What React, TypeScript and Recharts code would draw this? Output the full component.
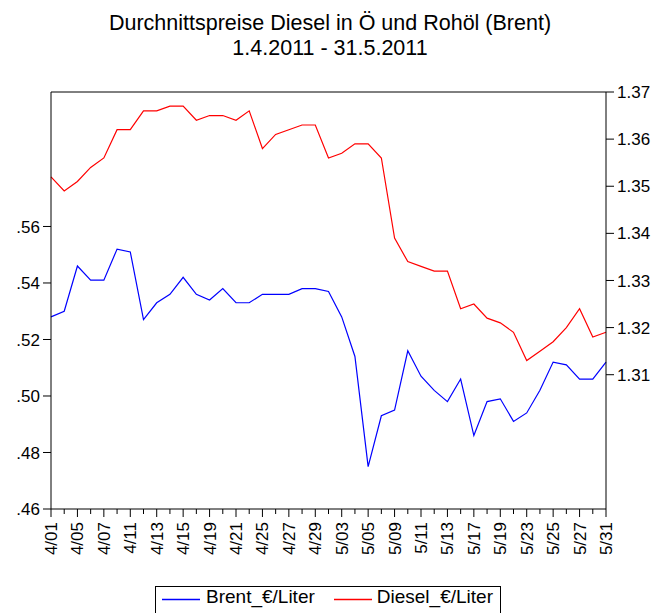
import React from 'react';
import { LineChart, Line, XAxis, YAxis, ReferenceLine } from 'recharts';

const dates = [
  '4/01', '4/04', '4/05', '4/06', '4/07', '4/08', '4/11', '4/12', '4/13', '4/14', '4/15',
  '4/18', '4/19', '4/20', '4/21', '4/22', '4/25', '4/26', '4/27', '4/28', '4/29',
  '5/02', '5/03', '5/04', '5/05', '5/06', '5/09', '5/10', '5/11', '5/12', '5/13',
  '5/16', '5/17', '5/18', '5/19', '5/20', '5/23', '5/24', '5/25', '5/26', '5/27', '5/30', '5/31',
];

const brent = [
  0.528, 0.530, 0.546, 0.541, 0.541, 0.552, 0.551, 0.527, 0.533, 0.536, 0.542,
  0.536, 0.534, 0.538, 0.533, 0.533, 0.536, 0.536, 0.536, 0.538, 0.538,
  0.537, 0.528, 0.514, 0.475, 0.493, 0.495, 0.516, 0.507, 0.502, 0.498,
  0.506, 0.486, 0.498, 0.499, 0.491, 0.494, 0.502, 0.512, 0.511, 0.506, 0.506, 0.512,
];

const diesel = [
  1.352, 1.349, 1.351, 1.354, 1.356, 1.362, 1.362, 1.366, 1.366, 1.367, 1.367,
  1.364, 1.365, 1.365, 1.364, 1.366, 1.358, 1.361, 1.362, 1.363, 1.363,
  1.356, 1.357, 1.359, 1.359, 1.356, 1.339, 1.334, 1.333, 1.332, 1.332,
  1.324, 1.325, 1.322, 1.321, 1.319, 1.313, 1.315, 1.317, 1.320, 1.324, 1.318, 1.319,
];

const leftTicks = [0.46, 0.48, 0.5, 0.52, 0.54, 0.56];
const rightTicks = [1.31, 1.32, 1.33, 1.34, 1.35, 1.36, 1.37];
const leftMax = 0.6076;

const data = dates.map((d, i) => ({ date: d, brent: brent[i], diesel: diesel[i] }));

const FONT = '"Liberation Sans", Arial, sans-serif';

const DateTick = ({ x, y, payload, index }: any) => {
  const i = payload?.index ?? index;
  const major = i % 2 === 0;
  return (
    <g>
      <line x1={x} x2={x} y1={y} y2={y + (major ? 8 : 5)} stroke="#000" />
      {major && (
        <text
          x={0}
          y={0}
          transform={`translate(${x + 6},${y + 13}) rotate(-90)`}
          textAnchor="end"
          fontSize={17}
          fontFamily={FONT}
          fill="#000"
        >
          {payload.value}
        </text>
      )}
    </g>
  );
};

const LegendMark = ({ color }: { color: string }) => (
  <svg width={38} height={24} style={{ display: 'block' }}>
    <line x1={0} x2={38} y1={12.5} y2={12.5} stroke={color} strokeWidth={1.5} />
  </svg>
);

export default function App() {
  return (
    <div style={{ position: 'absolute', left: 0, top: 0, width: 660, height: 613, background: '#fff', fontFamily: FONT }}>
      <div style={{ position: 'absolute', left: 0, top: 11, width: 660, textAlign: 'center', fontSize: 21.5, lineHeight: '25px', color: '#000' }}>
        <div>Durchnittspreise Diesel in Ö und Rohöl (Brent)</div>
        <div>1.4.2011 - 31.5.2011</div>
      </div>
      <LineChart width={660} height={613} data={data} margin={{ top: 92, right: 0, left: 0, bottom: 0 }}>
        <XAxis
          dataKey="date"
          interval={0}
          height={104}
          tickSize={0}
          tickMargin={0}
          tickLine={false}
          axisLine={{ stroke: '#000' }}
          tick={<DateTick />}
        />
        <YAxis
          yAxisId="left"
          domain={[0.46, leftMax]}
          ticks={leftTicks}
          width={51}
          tickSize={8}
          tickMargin={3}
          axisLine={{ stroke: '#000' }}
          tickLine={{ stroke: '#000' }}
          tick={{ fill: '#000', fontSize: 17, fontFamily: FONT }}
          tickFormatter={(v: number) => v.toFixed(2).replace(/^0/, '')}
          allowDataOverflow
        />
        <YAxis
          yAxisId="right"
          orientation="right"
          domain={[1.2815, 1.37]}
          ticks={rightTicks}
          width={54}
          tickSize={8}
          tickMargin={3}
          axisLine={{ stroke: '#000' }}
          tickLine={{ stroke: '#000' }}
          tick={{ fill: '#000', fontSize: 17, fontFamily: FONT }}
          tickFormatter={(v: number) => v.toFixed(2)}
          allowDataOverflow
        />
        <ReferenceLine yAxisId="left" y={leftMax} stroke="#000" strokeWidth={1} ifOverflow="visible" />
        <Line yAxisId="left" type="linear" dataKey="brent" stroke="#0000ff" strokeWidth={1.2} dot={false} isAnimationActive={false} />
        <Line yAxisId="right" type="linear" dataKey="diesel" stroke="#ff0000" strokeWidth={1.2} dot={false} isAnimationActive={false} />
      </LineChart>
      <div
        style={{
          position: 'absolute', left: 155, top: 586, width: 346, height: 40,
          border: '1px solid #000', boxSizing: 'border-box', fontSize: 19, lineHeight: '20px', color: '#000',
          display: 'flex', alignItems: 'flex-start', paddingTop: 0, paddingLeft: 6, whiteSpace: 'nowrap',
        }}
      >
        <LegendMark color="#0000ff" />
        <span style={{ marginLeft: 6 }}>Brent_€/Liter</span>
        <span style={{ marginLeft: 19 }}><LegendMark color="#ff0000" /></span>
        <span style={{ marginLeft: 5 }}>Diesel_€/Liter</span>
      </div>
    </div>
  );
}
